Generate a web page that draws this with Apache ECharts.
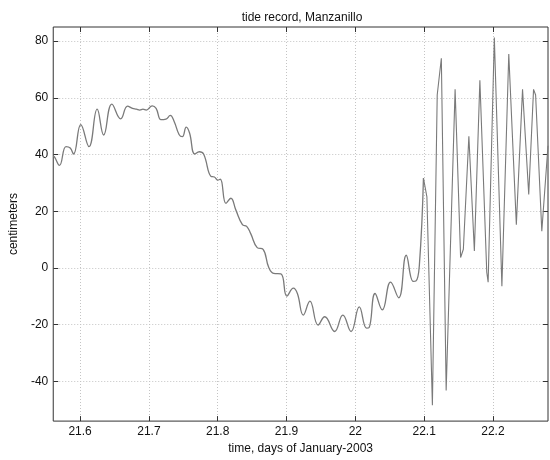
<!DOCTYPE html>
<html>
<head>
<meta charset="utf-8">
<title>tide record, Manzanillo</title>
<script src="https://cdn.jsdelivr.net/npm/echarts@6/dist/echarts.min.js"></script>
<style>
  html, body { margin: 0; padding: 0; background: #fff; }
  #chart { width: 550px; height: 460px; }
</style>
</head>
<body>
<div id="chart"></div>
<script>
// tide record, days of January-2003 vs centimeters
// smooth part, before the record goes wild
var smoothDays = [21.561, 21.563, 21.570, 21.5795, 21.5857, 21.5905, 21.601, 21.6129, 21.6248, 21.6343,
  21.6462, 21.659, 21.669, 21.6762, 21.6819, 21.6867, 21.6914, 21.6962, 21.7048, 21.7105,
  21.7176, 21.7248, 21.731, 21.7367, 21.7438, 21.7486, 21.7543, 21.759, 21.7667, 21.7733,
  21.7795, 21.7904, 21.7952, 21.800, 21.8038, 21.812, 21.8191, 21.8263, 21.8359, 21.8421,
  21.8478, 21.8574, 21.866, 21.8742, 21.8813, 21.8919, 21.9005, 21.910, 21.9158, 21.9244,
  21.934, 21.9459, 21.9555, 21.9699, 21.9818, 21.9938, 22.0057, 22.0163, 22.0201, 22.0287,
  22.0392, 22.0512, 22.063, 22.074, 22.084, 22.088, 22.093, 22.099];
var smoothCm = [39.5, 39.1, 36.2, 42.8, 42.3, 40.2, 50.6, 42.8, 56.0, 46.9,
  57.8, 52.6, 57.1, 56.3, 56.0, 55.7, 56.0, 55.7, 57.2, 56.3,
  52.3, 52.5, 53.8, 51.7, 47.1, 46.3, 49.7, 47.7, 40.2, 41.0,
  40.2, 32.3, 32.1, 31.0, 31.3, 22.8, 24.6, 20.5, 15.3, 14.7,
  12.2, 7.2, 6.6, 0.2, -1.9, -2.1, -9.9, -7.1, -9.0, -16.6,
  -11.7, -20.1, -17.2, -22.4, -16.6, -22.4, -13.7, -21.2, -21.0, -9.0,
  -14.8, -5.0, -10.5, 4.5, -4.7, -4.6, 0.8, 31.7];
// jagged part after 22.1
var jumpDays = [22.099, 22.104, 22.112, 22.119, 22.125, 22.132, 22.145, 22.153, 22.157, 22.165,
  22.173, 22.181, 22.191, 22.193, 22.202, 22.213, 22.223, 22.234, 22.243, 22.252,
  22.259, 22.262, 22.271, 22.280];
var jumpCm = [31.7, 25.1, -48.4, 61.0, 74.0, -43.2, 63.0, 3.7, 6.6, 46.5,
  6.0, 66.2, -1.5, -5.0, 81.3, -6.4, 75.5, 15.3, 63.0, 25.9,
  63.0, 61.0, 13.0, 43.1];

var xTicks = [21.6, 21.7, 21.8, 21.9, 22, 22.1, 22.2];
var yTicks = [-40, -20, 0, 20, 40, 60, 80];

function pairs(xs, ys) {
  var out = [];
  for (var i = 0; i < xs.length; i++) out.push([xs[i], ys[i]]);
  return out;
}

var font = 'Liberation Sans, Arial, sans-serif';
var lineColor = '#7a7a7a';
var tickStyle = { show: true, inside: true, length: 5, lineStyle: { color: '#333' } };

var myChart = echarts.init(document.getElementById('chart'));
var option = {
  backgroundColor: '#fff',
  animation: false,
  title: {
    text: 'tide record, Manzanillo',
    left: 297,
    top: 7,
    textAlign: 'center',
    textStyle: { fontFamily: font, fontSize: 12, fontWeight: 'normal', color: '#111' }
  },
  grid: {
    left: 46, right: 2, top: 27, bottom: 32,
    show: true, borderColor: '#333', borderWidth: 1, backgroundColor: '#fff'
  },
  xAxis: [{
    type: 'value',
    min: 21.561, max: 22.28,
    name: 'time, days of January-2003',
    nameLocation: 'middle',
    nameGap: 19,
    nameTextStyle: { fontFamily: font, fontSize: 12, color: '#111' },
    axisLine: { show: false, onZero: false },
    axisTick: Object.assign({ customValues: xTicks }, tickStyle),
    axisLabel: { customValues: xTicks, margin: 5, fontFamily: font, fontSize: 12, color: '#111' },
    splitLine: { show: true, lineStyle: { color: '#c4c4c4', type: [1, 2], width: 1 } }
  }, {
    type: 'value', position: 'top',
    min: 21.561, max: 22.28,
    axisLine: { show: false, onZero: false },
    axisTick: Object.assign({ customValues: xTicks }, tickStyle),
    axisLabel: { show: false },
    splitLine: { show: false }
  }],
  yAxis: [{
    type: 'value',
    min: -54, max: 85,
    name: 'centimeters',
    nameLocation: 'middle',
    nameRotate: 90,
    nameGap: 22,
    nameTextStyle: { fontFamily: font, fontSize: 12, color: '#111' },
    axisLine: { show: false, onZero: false },
    axisTick: Object.assign({ customValues: yTicks }, tickStyle),
    axisLabel: { customValues: yTicks, margin: 5, fontFamily: font, fontSize: 12, color: '#111' },
    splitLine: { show: true, lineStyle: { color: '#c4c4c4', type: [1, 2], width: 1 } }
  }, {
    type: 'value', position: 'right',
    min: -54, max: 85,
    axisLine: { show: false, onZero: false },
    axisTick: Object.assign({ customValues: yTicks }, tickStyle),
    axisLabel: { show: false },
    splitLine: { show: false }
  }],
  series: [{
    name: 'tide',
    type: 'line',
    showSymbol: false,
    smooth: 0.45,
    lineStyle: { color: lineColor, width: 1.3 },
    data: pairs(smoothDays, smoothCm)
  }, {
    name: 'tide2',
    type: 'line',
    showSymbol: false,
    smooth: false,
    lineStyle: { color: lineColor, width: 1.1 },
    data: pairs(jumpDays, jumpCm)
  }]
};
myChart.setOption(option);
</script>
</body>
</html>
